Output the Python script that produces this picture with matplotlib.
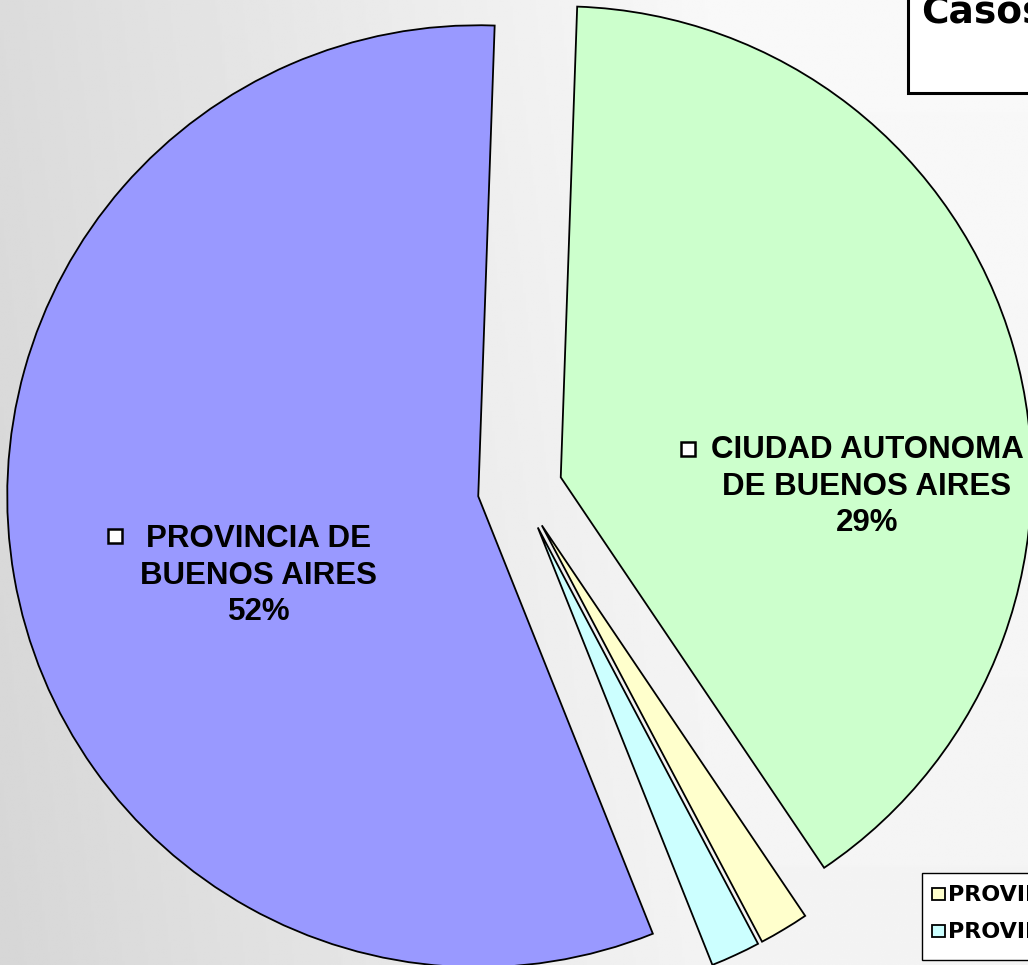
import numpy as np
import matplotlib.pyplot as plt
from matplotlib.patches import Rectangle

# Data (slice shares, labels as printed)
regions = ['CIUDAD AUTONOMA\nDE BUENOS AIRES', 'PROVINCIA', 'PROVINCIA', 'PROVINCIA DE\nBUENOS AIRES']
shares = [40.0, 1.7, 1.7, 56.6]
pct_labels = ['29%', '', '', '52%']
colors = ['#CCFFCC', '#FFFFCC', '#CCFFFF', '#9999FF']
title = 'Casos'

W, H = 1028, 965
cx, cy, R = 520.0, 489.0, 471.0  # pie centre / radius in pixels


def fx(px):
    return px / W


def fy(py):
    return 1 - py / H


fig = plt.figure(figsize=(W / 100, H / 100), dpi=100)
ax = fig.add_axes([0, 0, 1, 1])
x0, x1 = -cx / R, (W - cx) / R
y0, y1 = -(H - cy) / R, cy / R

# gray gradient background
gx, gy = np.meshgrid(np.linspace(0, 1, 400), np.linspace(0, 1, 400))
bg = 0.86 + 0.115 * np.clip(gx / 0.7, 0, 1) - 0.02 * gy
ax.imshow(bg, extent=(x0, x1, y0, y1), cmap='gray', vmin=0, vmax=1,
          aspect='auto', zorder=0, origin='upper')

wedges, _ = ax.pie(shares, colors=colors, startangle=88, counterclock=False,
                   explode=[0.09] * len(shares),
                   wedgeprops=dict(edgecolor='black', linewidth=1.3))
for w in wedges:
    w.set_zorder(2)
ax.set_xlim(x0, x1)
ax.set_ylim(y0, y1)
ax.set_aspect('auto')
ax.axis('off')

font = dict(family='Liberation Sans', fontweight='bold', color='black')


def label_block(name, pct, xc, base_y, key_xy, step=36.7):
    lines = name.split('\n') + [pct]
    for i, line in enumerate(lines):
        fig.text(fx(xc), fy(base_y + i * step), line, ha='center', va='baseline',
                 fontsize=22.5, **font)
    kx, ky = key_xy
    fig.add_artist(Rectangle((fx(kx), fy(ky + 14)), 14 / W, 14 / H,
                             transform=fig.transFigure, facecolor='white',
                             edgecolor='black', linewidth=1.8, zorder=5))


label_block(regions[0], pct_labels[0], 867, 458, (681, 442))
label_block(regions[3], pct_labels[3], 259, 547, (108, 529))

# title box (cut by the image edge)
fig.add_artist(Rectangle((fx(908), fy(93)), 200 / W, 200 / H,
                         transform=fig.transFigure, facecolor='white',
                         edgecolor='black', linewidth=2.2, zorder=4))
fig.text(fx(921), fy(24), title, ha='left', va='baseline', fontsize=27,
         family='DejaVu Sans', fontweight='bold', zorder=6)

# legend box (cut by the image edge)
fig.add_artist(Rectangle((fx(922), fy(960)), 200 / W, 87 / H,
                         transform=fig.transFigure, facecolor='white',
                         edgecolor='black', linewidth=1.0, zorder=4))
for i, (name, col) in enumerate(zip(regions[1:3], colors[1:3])):
    base = 901 + i * 37
    fig.add_artist(Rectangle((fx(932), fy(base - 1)), 13 / W, 12 / H,
                             transform=fig.transFigure, facecolor=col,
                             edgecolor='black', linewidth=1.3, zorder=5))
    fig.text(fx(948), fy(base), name, ha='left', va='baseline', fontsize=16,
             family='DejaVu Sans', fontweight='bold', zorder=6)

fig.savefig('out.png', dpi=100)
